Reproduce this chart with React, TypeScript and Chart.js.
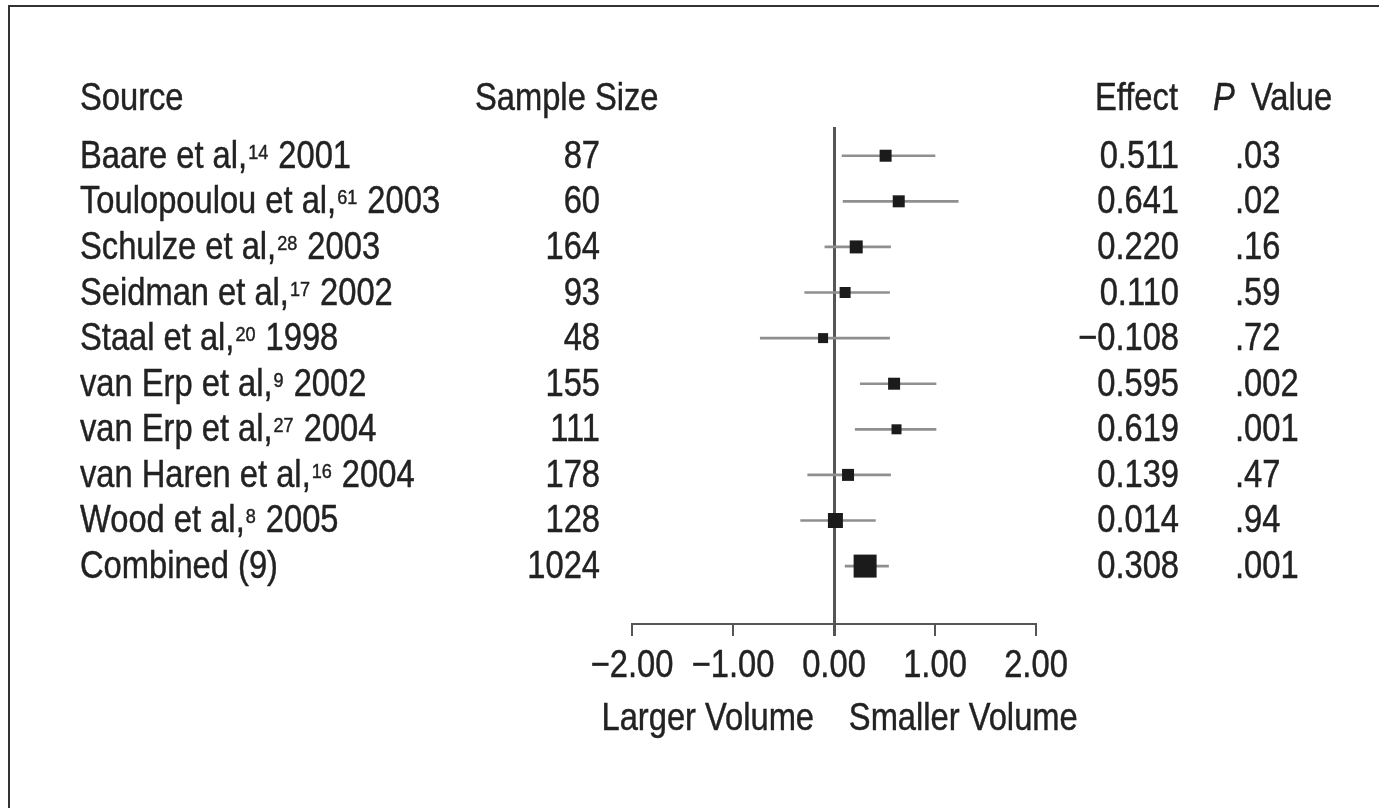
import React, { useEffect, useRef } from 'react';
import { Chart, registerables } from 'chart.js';

Chart.register(...registerables);

// ---- data ----
const sources = [
  'Baare et al,',
  'Toulopoulou et al,',
  'Schulze et al,',
  'Seidman et al,',
  'Staal et al,',
  'van Erp et al,',
  'van Erp et al,',
  'van Haren et al,',
  'Wood et al,',
  'Combined (9)',
];
const refs = ['14', '61', '28', '17', '20', '9', '27', '16', '8', ''];
const years = ['2001', '2003', '2003', '2002', '1998', '2002', '2004', '2004', '2005', ''];
const sampleSizes = [87, 60, 164, 93, 48, 155, 111, 178, 128, 1024];
const effects = [0.511, 0.641, 0.22, 0.11, -0.108, 0.595, 0.619, 0.139, 0.014, 0.308];
const ciLower = [0.08, 0.09, -0.09, -0.29, -0.73, 0.26, 0.21, -0.26, -0.33, 0.11];
const ciUpper = [1.0, 1.23, 0.56, 0.55, 0.55, 1.01, 1.01, 0.56, 0.41, 0.54];
const pValues = ['.03', '.02', '.16', '.59', '.72', '.002', '.001', '.47', '.94', '.001'];
const xTickValues = [-2, -1, 0, 1, 2];
const xTickLabels = ['\u22122.00', '\u22121.00', '0.00', '1.00', '2.00'];
const headers = { source: 'Source', sample: 'Sample Size', effect: 'Effect', p: 'P', value: 'Value' };
const directionLabels = ['Larger Volume', 'Smaller Volume'];

// ---- style ----
const markerSides = [12, 12, 13, 11, 10, 12, 10, 12, 15, 23];
const FONT_FAMILY = '"Liberation Sans", Arial, sans-serif';
const SX = 0.86; // horizontal condensing of text
const TEXT = '#222222';
const MAIN = `38px ${FONT_FAMILY}`;
const SUP = `21px ${FONT_FAMILY}`;

const fmtEffect = (v: number) => (v < 0 ? '\u2212' : '') + Math.abs(v).toFixed(3);

function drawText(ctx: CanvasRenderingContext2D, s: string, x: number, y: number, align: CanvasTextAlign, font: string) {
  ctx.save();
  ctx.font = font;
  ctx.textAlign = align;
  ctx.textBaseline = 'alphabetic';
  ctx.translate(x, y);
  ctx.scale(SX, 1);
  ctx.fillStyle = TEXT;
  ctx.strokeStyle = TEXT;
  ctx.lineWidth = 0.45;
  ctx.fillText(s, 0, 0);
  ctx.strokeText(s, 0, 0);
  ctx.restore();
}
function textWidth(ctx: CanvasRenderingContext2D, s: string, font: string) {
  ctx.save();
  ctx.font = font;
  const w = ctx.measureText(s).width * SX;
  ctx.restore();
  return w;
}

const textPlugin = {
  id: 'forestText',
  afterDraw(chart: any) {
    const ctx: CanvasRenderingContext2D = chart.ctx;
    const y = chart.scales.y;
    const x = chart.scales.x;
    ctx.save();
    // frame
    ctx.strokeStyle = '#333';
    ctx.lineWidth = 2;
    ctx.beginPath();
    ctx.moveTo(9, 808);
    ctx.lineTo(9, 6);
    ctx.lineTo(1379, 6);
    ctx.stroke();

    // headers
    const hy = y.getPixelForValue(-1.27) + 12;
    drawText(ctx, headers.source, 80, hy, 'left', MAIN);
    drawText(ctx, headers.sample, 475, hy, 'left', MAIN);
    drawText(ctx, headers.effect, 1095, hy, 'left', MAIN);
    drawText(ctx, headers.p, 1213, hy, 'left', `italic ${MAIN}`);
    drawText(ctx, headers.value, 1251, hy, 'left', MAIN);

    sources.forEach((s, i) => {
      const by = y.getPixelForValue(i) + 12;
      let cx = 80;
      drawText(ctx, s, cx, by, 'left', MAIN);
      cx += textWidth(ctx, s, MAIN);
      if (refs[i]) {
        drawText(ctx, refs[i], cx + 1, by - 9, 'left', SUP);
        cx += textWidth(ctx, refs[i], SUP) + 2;
      }
      if (years[i]) {
        drawText(ctx, ' ' + years[i], cx, by, 'left', MAIN);
      }
      drawText(ctx, String(sampleSizes[i]), 600, by, 'right', MAIN);
      drawText(ctx, fmtEffect(effects[i]), 1179, by, 'right', MAIN);
      drawText(ctx, pValues[i], 1235, by, 'left', MAIN);
    });

    // x tick labels (from the scale's ticks)
    x.ticks.forEach((t: any, idx: number) => {
      drawText(ctx, xTickLabels[idx], x.getPixelForValue(t.value), 677, 'center', MAIN);
    });

    // direction labels
    drawText(ctx, directionLabels[0], x.getPixelForValue(-1.25), 730, 'center', MAIN);
    drawText(ctx, directionLabels[1], x.getPixelForValue(1.28), 730, 'center', MAIN);
    ctx.restore();
  },
};

export default function App() {
  const ref = useRef<HTMLCanvasElement>(null);
  useEffect(() => {
    if (!ref.current) return;
    const rows = sources.map((_, i) => i);
    const chart = new Chart(ref.current, {
      type: 'bar',
      data: {
        datasets: [
          {
            type: 'bar',
            indexAxis: 'y',
            data: rows.map((i) => ({ y: i, x: [ciLower[i], ciUpper[i]] })) as any,
            backgroundColor: '#8f8f8f',
            borderWidth: 0,
            barThickness: 2,
            order: 2,
          } as any,
          {
            type: 'scatter',
            data: rows.map((i) => ({ x: effects[i], y: i })),
            pointStyle: 'rect',
            pointRadius: markerSides.map((s) => s / Math.SQRT2),
            backgroundColor: '#1b1b1b',
            borderWidth: 0,
            order: 1,
          } as any,
        ],
      },
      options: {
        responsive: false,
        maintainAspectRatio: false,
        animation: false,
        layout: { padding: { left: 632, right: 343, top: 127, bottom: 124 } },
        plugins: { legend: { display: false }, tooltip: { enabled: false } },
        scales: {
          x: {
            type: 'linear',
            position: 'bottom',
            min: -2,
            max: 2,
            offset: false,
            afterBuildTicks: (scale: any) => {
              scale.ticks = xTickValues.map((v) => ({ value: v }));
            },
            afterFit: (scale: any) => {
              scale.height = 60;
            },
            ticks: { display: false },
            grid: {
              offset: false,
              color: (c: any) => (c.tick && c.tick.value === 0 ? '#555' : 'rgba(0,0,0,0)'),
              tickColor: '#555',
              lineWidth: (c: any) => (c.tick && c.tick.value === 0 ? 3 : 2),
              tickLength: 12,
              drawTicks: true,
            },
            border: { display: true, color: '#555', width: 2 },
          },
          y: {
            type: 'linear',
            min: -0.63,
            max: 10.27,
            reverse: true,
            offset: false,
            display: false,
            grid: { offset: false },
          },
        },
      } as any,
      plugins: [textPlugin],
    });
    return () => chart.destroy();
  }, []);
  return (
    <div style={{ position: 'fixed', left: 0, top: 0, width: 1379, height: 808, background: '#fff' }}>
      <canvas ref={ref} width={1379} height={808} style={{ display: 'block' }} />
    </div>
  );
}
